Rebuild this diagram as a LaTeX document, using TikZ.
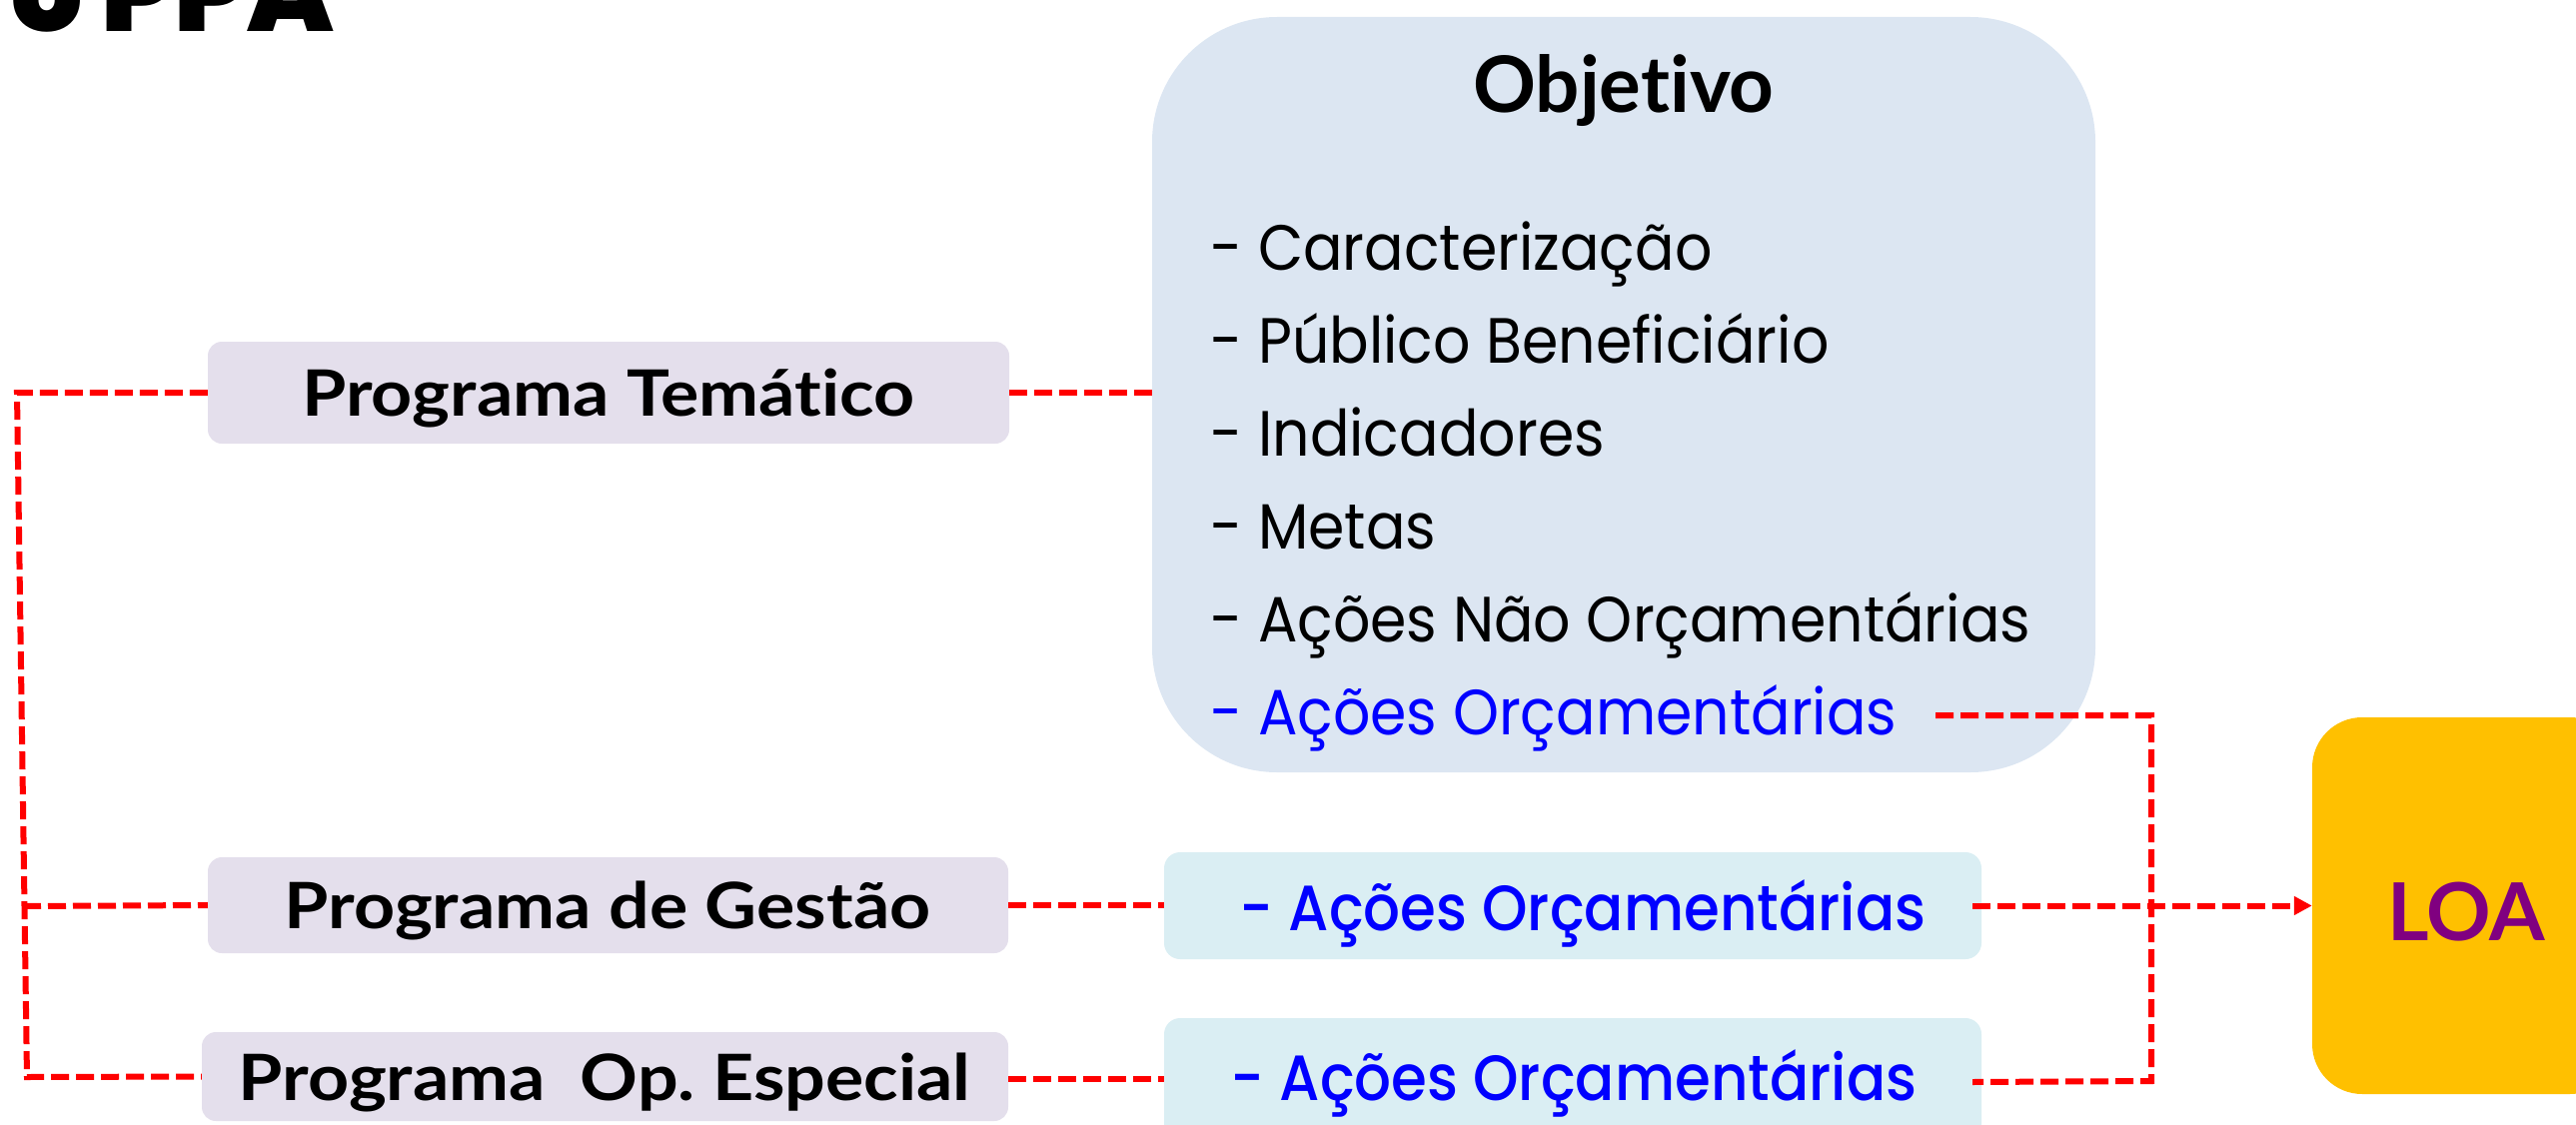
\documentclass[tikz,border=0pt]{standalone}
\usepackage{fontspec}
\usetikzlibrary{arrows.meta}
\setmainfont[Ligatures={NoCommon}]{Lato}
\newfontfamily\progfont[Ligatures={NoCommon},FakeStretch=1.12]{Lato}
\newfontfamily\listfont[FakeStretch=0.915]{Poppins}
\IfFontExistsTF{Poppins Medium}
  {\newfontfamily\acfont[FakeStretch=0.905]{Poppins Medium}}
  {\newfontfamily\acfont[FakeStretch=0.905]{Poppins}}
\IfFontExistsTF{Poppins Black}
  {\newfontfamily\titlefont{Poppins Black}}
  {\newfontfamily\titlefont[FakeBold=3]{Poppins Bold}}
\definecolor{lavfill}{HTML}{E4DFEC}
\definecolor{objfill}{HTML}{DCE6F2}
\definecolor{acfill}{HTML}{DAEEF3}
\definecolor{loafill}{HTML}{FFC000}
\definecolor{loatext}{HTML}{800080}
\definecolor{acblue}{HTML}{0000FF}
\frenchspacing
\tikzset{
  lav/.style={fill=lavfill, draw=none, rounded corners=14pt, inner sep=0pt},
  objbox/.style={fill=objfill, draw=none, rounded corners=125pt, inner sep=0pt},
  acbox/.style={fill=acfill, draw=none, rounded corners=16pt, inner sep=0pt},
  loabox/.style={fill=loafill, draw=none, rounded corners=50pt, inner sep=0pt},
  conn/.style={draw=red, line width=6pt, dash pattern=on 18pt off 7pt},
  progtxt/.style={anchor=base, inner sep=0pt, font=\progfont\fontsize{64}{70}\selectfont\bfseries},
  listtxt/.style={anchor=base west, inner sep=0pt, font=\listfont\fontsize{64}{70}\selectfont},
  actxt/.style={anchor=base, inner sep=0pt, text=acblue, font=\acfont\fontsize{64}{70}\selectfont},
}
\begin{document}
\begin{tikzpicture}[x=1pt,y=-1pt]
\useasboundingbox (0,0) rectangle (2578,1126);
\clip (0,0) rectangle (2578,1126);
% title (cropped)
\node[anchor=base east, inner sep=0pt, font=\titlefont\fontsize{112}{120}\selectfont] (title) at (334,32) {o PPA};
% boxes
\node[lav, minimum width=802pt, minimum height=102pt] (pt) at (609,393) {};
\node[lav, minimum width=801pt, minimum height=96pt] (pg) at (608.5,906) {};
\node[lav, minimum width=807pt, minimum height=89pt] (po) at (605.5,1077.5) {};
\node[objbox, minimum width=944pt, minimum height=756pt] (obj) at (1625,395) {};
\node[acbox, minimum width=818pt, minimum height=107pt] (ag) at (1574,906.5) {};
\node[acbox, minimum width=818pt, minimum height=122pt] (ao) at (1574,1080) {};
\node[loabox, minimum width=308pt, minimum height=377pt] (loa) at (2468,906.5) {};
% texts
\node[progtxt] (ptt) at (609,416) {Programa Temático};
\node[progtxt] (pgt) at (608,929) {Programa de Gestão};
\node[progtxt] (pot) at (605,1101) {Programa\ \ Op. Especial};
\node[anchor=base, inner sep=0pt, font=\fontsize{78}{84}\selectfont\bfseries] (objt) at (1625,113) {Objetivo};
\node[listtxt] (l1) at (1211,270) {- Caracterização};
\node[listtxt] (l2) at (1211,363) {- Público Beneficiário};
\node[listtxt] (l3) at (1211,456) {- Indicadores};
\node[listtxt] (l4) at (1211,549) {- Metas};
\node[listtxt] (l5) at (1211,642) {- Ações Não Orçamentárias};
\node[listtxt, text=acblue] (l6) at (1211,735) {- Ações Orçamentárias};
\node[actxt] (agt) at (1584,931) {- Ações Orçamentárias};
\node[actxt] (aot) at (1575,1101) {- Ações Orçamentárias};
\node[anchor=base, inner sep=0pt, text=loatext, font=\fontsize{80}{86}\selectfont\bfseries] (loat) at (2468,941) {LOA};
% connector coordinates
\coordinate (cTL) at (17,393);
\coordinate (cG) at (23,907);
\coordinate (cBL) at (27,1078);
\coordinate (cTRs) at (1937,716);
\coordinate (cTR) at (2153,716);
\coordinate (cBR) at (2153,1082);
% connectors
\draw[conn] (pt.west) -- (cTL) -- (cBL) -- (po.west);
\draw[conn] (cG) -- (pg.west);
\draw[conn] (pt.east) -- (obj.west |- pt.east);
\draw[conn] (pg.east) -- (ag.west |- pg.east);
\draw[conn] (po.east |- ao.west) -- (ao.west);
\draw[conn] (cTRs) -- (cTR) -- (cBR) -- ([xshift=-9pt,yshift=-3pt]ao.east);
\draw[conn, -{Triangle[length=18pt,width=18pt]}] ([xshift=-9pt]ag.east) -- (loa.west);
\end{tikzpicture}
\end{document}
